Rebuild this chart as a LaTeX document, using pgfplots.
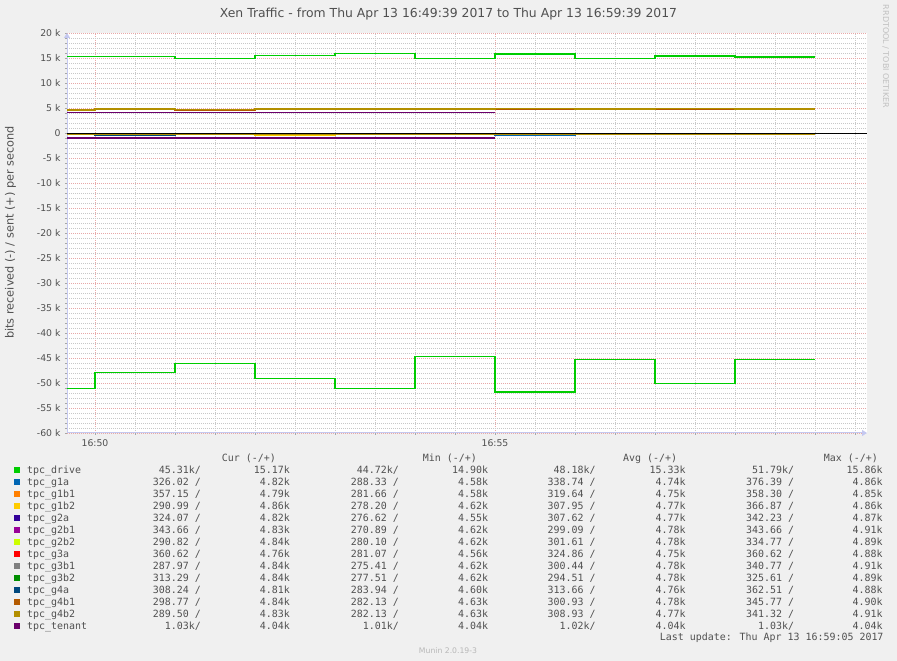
\documentclass[border=0pt]{standalone}
\usepackage{fontspec}
\setmainfont{DejaVu Sans}
\newfontfamily\mono{DejaVu Sans Mono}
\usepackage{pgfplots}
\pgfplotsset{compat=1.18}
\usetikzlibrary{arrows.meta}
\definecolor{bgc}{HTML}{F0F0F0}
\definecolor{txtc}{HTML}{505050}
\definecolor{axisc}{HTML}{C4C8F0}
\definecolor{mingrid}{HTML}{C8C8C8}
\definecolor{majgrid}{HTML}{E8A8A8}
\definecolor{cdrive}{HTML}{00CC00}
\definecolor{cgIa}{HTML}{0066B3}
\definecolor{cgIbI}{HTML}{FF8000}
\definecolor{cgIbII}{HTML}{FFCC00}
\definecolor{cgIIa}{HTML}{330099}
\definecolor{cgIIbI}{HTML}{990099}
\definecolor{cgIIbII}{HTML}{CCFF00}
\definecolor{cgIIIa}{HTML}{FF0000}
\definecolor{cgIIIbI}{HTML}{808080}
\definecolor{cgIIIbII}{HTML}{008F00}
\definecolor{cgIVa}{HTML}{00487D}
\definecolor{cgIVbI}{HTML}{B35A00}
\definecolor{cgIVbII}{HTML}{B38F00}
\definecolor{ctenant}{HTML}{6B006B}
\newcommand\legfont{\mono\fontsize{9.95}{12}\selectfont}
\tikzset{lv/.style={anchor=base east, inner sep=0pt, font=\legfont, text=txtc}}
\newcommand\lname[3]{%
  \pgfmathsetmacro\yy{661-473.5-12*#1}%
  \fill[#2] (14pt,\yy pt+0.5pt) rectangle (20pt,\yy pt+6.5pt);%
  \node[anchor=base west, inner sep=0pt, font=\legfont, text=txtc] at (27pt,\yy pt) {#3};}
\newcommand\lvals[9]{%
  \pgfmathsetmacro\yy{661-473.5-12*#1}%
  \node[lv] at (201pt,\yy pt) {#2};%
  \node[lv] at (290pt,\yy pt) {#3};%
  \node[lv] at (399pt,\yy pt) {#4};%
  \node[lv] at (488.3pt,\yy pt) {#5};%
  \node[lv] at (595.7pt,\yy pt) {#6};%
  \node[lv] at (685.7pt,\yy pt) {#7};%
  \node[lv] at (794.3pt,\yy pt) {#8};%
  \node[lv] at (882.7pt,\yy pt) {#9};}
\begin{document}
\begin{tikzpicture}
\fill[bgc] (0pt,0pt) rectangle (897pt,661pt);
\useasboundingbox (0pt,0pt) rectangle (897pt,661pt);
\begin{axis}[
  at={(67pt,228pt)}, anchor=south west,
  width=800pt, height=400pt, scale only axis,
  xmin=49.65, xmax=59.65, ymin=-60, ymax=20,
  axis lines*=left,
  axis background/.style={fill=white},
  x axis line style={draw=axisc, line width=1pt, -{Triangle[length=5pt,width=6pt]}},
  y axis line style={draw=axisc, line width=1pt, -{Triangle[length=5pt,width=6pt]}},
  xtick={50,55}, xticklabels={16:50,16:55},
  minor xtick={50.5,51,51.5,52,52.5,53,53.5,54,54.5,55.5,56,56.5,57,57.5,58,58.5,59,59.5},
  ytick={-60,-55,-50,-45,-40,-35,-30,-25,-20,-15,-10,-5,0,5,10,15,20},
  yticklabels={-60 k,-55 k,-50 k,-45 k,-40 k,-35 k,-30 k,-25 k,-20 k,-15 k,-10 k,-5 k,0,5 k,10 k,15 k,20 k},
  minor y tick num=4,
  grid=both,
  minor grid style={draw=mingrid, line width=0.8pt, dash pattern=on 1pt off 1pt},
  major grid style={draw=majgrid, line width=0.8pt, dash pattern=on 1pt off 1pt},
  tick align=outside, major tick length=2pt, minor tick length=2pt,
  tick style={draw=gray!70, line width=0.6pt},
  tick label style={font=\fontsize{9.3}{11}\selectfont, text=txtc},
  yticklabel style={xshift=-1pt},
  xticklabel style={yshift=-1.5pt},
  every axis plot/.append style={const plot, line width=1.4pt},
]
% zero line
\addplot[black, line width=0.9pt] coordinates {(49.65,0)(59.65,0)};
% tpc_drive
\addplot[cdrive] coordinates {(49.65,-51.07)(50,-47.87)(51,-46.07)(52,-49.13)(53,-51.07)(54,-44.72)(55,-51.79)(56,-45.27)(57,-50.07)(58,-45.31)(59,-45.31)};
\addplot[cdrive] coordinates {(49.65,15.35)(51,14.95)(52,15.50)(53,15.86)(54,14.95)(55,15.80)(56,14.90)(57,15.40)(58,15.17)(59,15.17)};
% tpc_g1a
\addplot[cgIa] coordinates {(49.65,-0.300)(50,-0.290)(51,-0.310)(52,-0.300)(53,-0.300)(54,-0.310)(55,-0.376)(56,-0.300)(57,-0.310)(58,-0.326)(59,-0.326)};
\addplot[cgIa] coordinates {(49.65,4.58)(50,4.80)(51,4.62)(52,4.74)(53,4.76)(54,4.80)(55,4.86)(56,4.75)(57,4.80)(58,4.82)(59,4.82)};
% tpc_g1b1
\addplot[cgIbI] coordinates {(49.65,-0.300)(50,-0.310)(51,-0.320)(52,-0.310)(53,-0.300)(54,-0.290)(55,-0.320)(56,-0.330)(57,-0.310)(58,-0.357)(59,-0.357)};
\addplot[cgIbI] coordinates {(49.65,4.60)(50,4.82)(51,4.58)(52,4.72)(53,4.77)(54,4.81)(55,4.85)(56,4.76)(57,4.80)(58,4.79)(59,4.79)};
% tpc_g1b2
\addplot[cgIbII] coordinates {(49.65,-0.310)(50,-0.300)(51,-0.330)(52,-0.367)(53,-0.300)(54,-0.290)(55,-0.310)(56,-0.300)(57,-0.320)(58,-0.291)(59,-0.291)};
\addplot[cgIbII] coordinates {(49.65,4.62)(50,4.80)(51,4.63)(52,4.76)(53,4.78)(54,4.83)(55,4.84)(56,4.78)(57,4.81)(58,4.86)(59,4.86)};
% tpc_g2a
\addplot[cgIIa] coordinates {(49.65,-0.300)(50,-0.310)(51,-0.300)(52,-0.290)(53,-0.342)(54,-0.310)(55,-0.300)(56,-0.290)(57,-0.310)(58,-0.324)(59,-0.324)};
\addplot[cgIIa] coordinates {(49.65,4.55)(50,4.83)(51,4.60)(52,4.75)(53,4.77)(54,4.82)(55,4.87)(56,4.77)(57,4.83)(58,4.82)(59,4.82)};
% tpc_g2b1
\addplot[cgIIbI] coordinates {(49.65,-0.290)(50,-0.300)(51,-0.310)(52,-0.280)(53,-0.300)(54,-0.290)(55,-0.310)(56,-0.300)(57,-0.290)(58,-0.344)(59,-0.344)};
\addplot[cgIIbI] coordinates {(49.65,4.62)(50,4.84)(51,4.64)(52,4.76)(53,4.79)(54,4.85)(55,4.91)(56,4.78)(57,4.84)(58,4.83)(59,4.83)};
% tpc_g2b2
\addplot[cgIIbII] coordinates {(49.65,-0.300)(50,-0.310)(51,-0.290)(52,-0.300)(53,-0.335)(54,-0.300)(55,-0.310)(56,-0.290)(57,-0.300)(58,-0.291)(59,-0.291)};
\addplot[cgIIbII] coordinates {(49.65,4.63)(50,4.82)(51,4.62)(52,4.75)(53,4.78)(54,4.82)(55,4.84)(56,4.89)(57,4.82)(58,4.84)(59,4.84)};
% tpc_g3a
\addplot[cgIIIa] coordinates {(49.65,-0.360)(50,-0.330)(51,-0.310)(52,-0.300)(53,-0.320)(54,-0.280)(55,-0.330)(56,-0.310)(57,-0.350)(58,-0.361)(59,-0.361)};
\addplot[cgIIIa] coordinates {(49.65,4.56)(50,4.84)(51,4.61)(52,4.74)(53,4.78)(54,4.84)(55,4.88)(56,4.77)(57,4.83)(58,4.76)(59,4.76)};
% tpc_g3b1
\addplot[cgIIIbI] coordinates {(49.65,-0.300)(50,-0.290)(51,-0.310)(52,-0.300)(53,-0.341)(54,-0.300)(55,-0.280)(56,-0.310)(57,-0.290)(58,-0.288)(59,-0.288)};
\addplot[cgIIIbI] coordinates {(49.65,4.62)(50,4.85)(51,4.63)(52,4.77)(53,4.79)(54,4.86)(55,4.91)(56,4.79)(57,4.85)(58,4.84)(59,4.84)};
% tpc_g3b2
\addplot[cgIIIbII] coordinates {(49.65,-0.290)(50,-0.300)(51,-0.280)(52,-0.290)(53,-0.326)(54,-0.320)(55,-0.290)(56,-0.300)(57,-0.280)(58,-0.313)(59,-0.313)};
\addplot[cgIIIbII] coordinates {(49.65,4.62)(50,4.84)(51,4.62)(52,4.76)(53,4.78)(54,4.85)(55,4.89)(56,4.78)(57,4.84)(58,4.84)(59,4.84)};
% tpc_g4a
\addplot[cgIVa] coordinates {(49.65,-0.310)(50,-0.363)(51,-0.300)(52,-0.290)(53,-0.300)(54,-0.310)(55,-0.300)(56,-0.290)(57,-0.330)(58,-0.308)(59,-0.308)};
\addplot[cgIVa] coordinates {(49.65,4.60)(50,4.83)(51,4.62)(52,4.75)(53,4.77)(54,4.84)(55,4.88)(56,4.77)(57,4.83)(58,4.81)(59,4.81)};
% tpc_g4b1
\addplot[cgIVbI] coordinates {(49.65,-0.300)(50,-0.310)(51,-0.346)(52,-0.340)(53,-0.290)(54,-0.300)(55,-0.310)(56,-0.340)(57,-0.300)(58,-0.299)(59,-0.299)};
\addplot[cgIVbI] coordinates {(49.65,4.64)(50,4.90)(51,4.63)(52,4.74)(53,4.77)(54,4.90)(55,4.82)(56,4.76)(57,4.82)(58,4.84)(59,4.84)};
% tpc_g4b2
\addplot[cgIVbII] coordinates {(49.65,-0.300)(50,-0.290)(51,-0.310)(52,-0.300)(53,-0.300)(54,-0.341)(55,-0.300)(56,-0.290)(57,-0.310)(58,-0.290)(59,-0.290)};
\addplot[cgIVbII] coordinates {(49.65,4.63)(50,4.82)(51,4.64)(52,4.78)(53,4.80)(54,4.83)(55,4.91)(56,4.80)(57,4.86)(58,4.83)(59,4.83)};
% tpc_tenant
\addplot[ctenant] coordinates {(49.65,-1.03)(50,-1.02)(51,-1.01)(52,-1.02)(53,-1.02)(54,-1.03)(55,-1.03)};
\addplot[ctenant] coordinates {(49.65,4.04)(50,4.04)(51,4.04)(52,4.04)(53,4.04)(54,4.04)(55,4.04)};
\end{axis}
% title and labels
\node[anchor=base, inner sep=0pt, font=\fontsize{12.4}{14}\selectfont, text=txtc] at (448.5pt,643pt) {Xen Traffic - from Thu Apr 13 16:49:39 2017 to Thu Apr 13 16:59:39 2017};
\node[rotate=90, inner sep=0pt, font=\fontsize{11.3}{13}\selectfont, text=txtc] at (10.5pt,428.5pt) {bits received (-) / sent (+) per second};
\node[rotate=-90, inner sep=0pt, font=\fontsize{8}{10}\selectfont, text={rgb,255:red,192;green,192;blue,192}] at (885.7pt,604.5pt) {RRDTOOL / TOBI OETIKER};
\node[anchor=base, inner sep=0pt, font=\fontsize{7.7}{9}\selectfont, text={rgb,255:red,184;green,184;blue,184}] at (448pt,7.7pt) {Munin 2.0.19-3};
% legend header
\node[anchor=base west, inner sep=0pt, font=\legfont, text=txtc] at (221.7pt,199.5pt) {Cur (-/+)};
\node[anchor=base west, inner sep=0pt, font=\legfont, text=txtc] at (422.7pt,199.5pt) {Min (-/+)};
\node[anchor=base west, inner sep=0pt, font=\legfont, text=txtc] at (623pt,199.5pt) {Avg (-/+)};
\node[anchor=base west, inner sep=0pt, font=\legfont, text=txtc] at (823.7pt,199.5pt) {Max (-/+)};
% legend rows
\lname{0}{cdrive}{tpc\_drive}
\lvals{0}{45.31k/}{15.17k}{44.72k/}{14.90k}{48.18k/}{15.33k}{51.79k/}{15.86k}
\lname{1}{cgIa}{tpc\_g1a}
\lvals{1}{326.02 /}{4.82k}{288.33 /}{4.58k}{338.74 /}{4.74k}{376.39 /}{4.86k}
\lname{2}{cgIbI}{tpc\_g1b1}
\lvals{2}{357.15 /}{4.79k}{281.66 /}{4.58k}{319.64 /}{4.75k}{358.30 /}{4.85k}
\lname{3}{cgIbII}{tpc\_g1b2}
\lvals{3}{290.99 /}{4.86k}{278.20 /}{4.62k}{307.95 /}{4.77k}{366.87 /}{4.86k}
\lname{4}{cgIIa}{tpc\_g2a}
\lvals{4}{324.07 /}{4.82k}{276.62 /}{4.55k}{307.62 /}{4.77k}{342.23 /}{4.87k}
\lname{5}{cgIIbI}{tpc\_g2b1}
\lvals{5}{343.66 /}{4.83k}{270.89 /}{4.62k}{299.09 /}{4.78k}{343.66 /}{4.91k}
\lname{6}{cgIIbII}{tpc\_g2b2}
\lvals{6}{290.82 /}{4.84k}{280.10 /}{4.62k}{301.61 /}{4.78k}{334.77 /}{4.89k}
\lname{7}{cgIIIa}{tpc\_g3a}
\lvals{7}{360.62 /}{4.76k}{281.07 /}{4.56k}{324.86 /}{4.75k}{360.62 /}{4.88k}
\lname{8}{cgIIIbI}{tpc\_g3b1}
\lvals{8}{287.97 /}{4.84k}{275.41 /}{4.62k}{300.44 /}{4.78k}{340.77 /}{4.91k}
\lname{9}{cgIIIbII}{tpc\_g3b2}
\lvals{9}{313.29 /}{4.84k}{277.51 /}{4.62k}{294.51 /}{4.78k}{325.61 /}{4.89k}
\lname{10}{cgIVa}{tpc\_g4a}
\lvals{10}{308.24 /}{4.81k}{283.94 /}{4.60k}{313.66 /}{4.76k}{362.51 /}{4.88k}
\lname{11}{cgIVbI}{tpc\_g4b1}
\lvals{11}{298.77 /}{4.84k}{282.13 /}{4.63k}{300.93 /}{4.78k}{345.77 /}{4.90k}
\lname{12}{cgIVbII}{tpc\_g4b2}
\lvals{12}{289.50 /}{4.83k}{282.13 /}{4.63k}{308.93 /}{4.77k}{341.32 /}{4.91k}
\lname{13}{ctenant}{tpc\_tenant}
\lvals{13}{1.03k/}{4.04k}{1.01k/}{4.04k}{1.02k/}{4.04k}{1.03k/}{4.04k}
\node[anchor=base east, inner sep=0pt, font=\legfont, text=txtc] at (883.7pt,20pt) {Last update: Thu Apr 13 16:59:05 2017};
\end{tikzpicture}
\end{document}
